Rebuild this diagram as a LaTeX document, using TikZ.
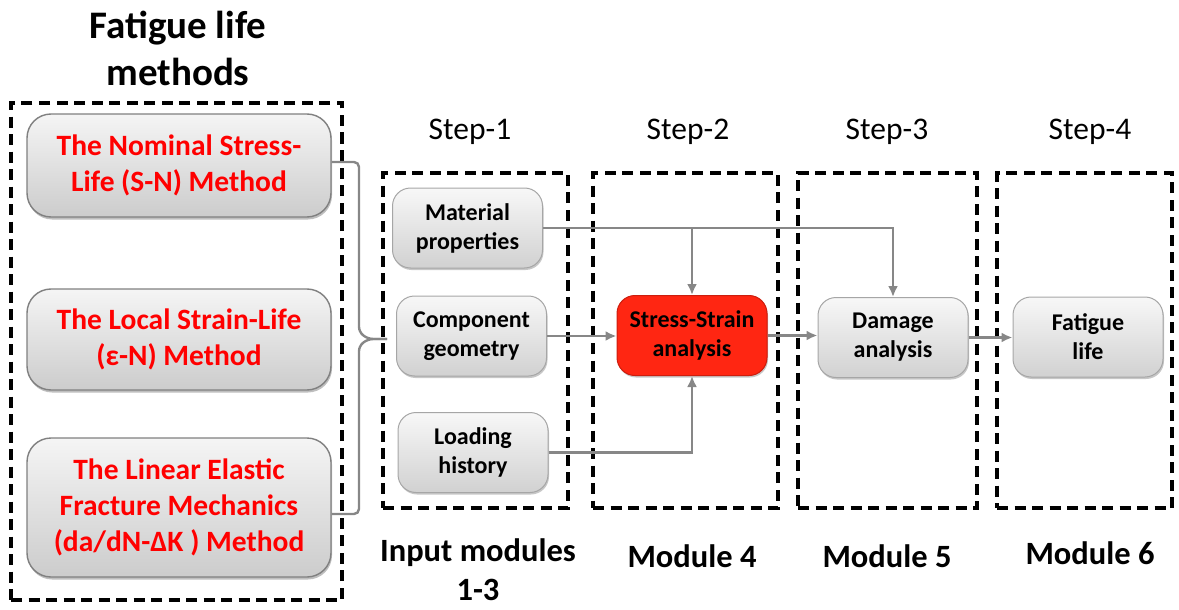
\documentclass[tikz,border=0pt]{standalone}
\usepackage{fontspec}
\setmainfont{Carlito}
\usetikzlibrary{arrows.meta,shadows}
\definecolor{linkgray}{RGB}{135,135,135}
\definecolor{edgegray}{RGB}{128,128,128}
\definecolor{hotred}{RGB}{255,38,18}
\tikzset{
  frame/.style={draw=black, line width=3.2pt, dash pattern=on 11pt off 6.5pt, inner sep=0pt},
  methodbox/.style={draw=edgegray, line width=1.4pt, rounded corners=24pt,
    top color=white!96!black, bottom color=black!20,
    drop shadow={shadow xshift=1pt, shadow yshift=-2.5pt, opacity=0.25, fill=black},
    minimum width=304pt, align=center, inner sep=0pt,
    text=red, font=\fontsize{29.5}{36}\selectfont\bfseries},
  stepbox/.style={draw=black!35, line width=1pt, rounded corners=18pt,
    top color=white!97!black, bottom color=black!18,
    drop shadow={shadow xshift=1pt, shadow yshift=-2pt, opacity=0.22, fill=black},
    minimum width=150pt, minimum height=80pt, align=center, inner sep=0pt,
    font=\fontsize{24}{29}\selectfont\bfseries},
  link/.style={draw=linkgray, line width=2.4pt, -{Latex[length=11pt,width=10pt]}},
  steplabel/.style={font=\fontsize{31.5}{36}\selectfont, inner sep=0pt},
  modlabel/.style={font=\fontsize{32.5}{39}\selectfont\bfseries, align=center, inner sep=0pt},
}
\begin{document}
\begin{tikzpicture}[x=1pt,y=-1pt]
\useasboundingbox (0,0) rectangle (1179,610);

% heading and left frame
\node[font=\fontsize{39}{47}\selectfont\bfseries, align=center, inner sep=0pt] (title) at (178,48) {Fatigue life\\methods};
\node[frame, minimum width=331pt, minimum height=497pt] (left) at (176.5,351.5) {};

% fatigue life methods
\node[methodbox, minimum height=103pt] (m1) at (179,165.5) {The Nominal Stress-\\Life (S-N) Method};
\node[methodbox, minimum height=101pt] (m2) at (179,339.5) {The Local Strain-Life\\(ε-N) Method};
\node[methodbox, minimum height=139pt] (m3) at (179,507.5) {The Linear Elastic\\Fracture Mechanics\\(da/dN-ΔK ) Method};

% step frames
\node[frame, minimum width=185pt, minimum height=335pt] (s1) at (475.5,340.5) {};
\node[frame, minimum width=185pt, minimum height=335pt] (s2) at (685.5,340.5) {};
\node[frame, minimum width=179pt, minimum height=335pt] (s3) at (887.5,340.5) {};
\node[frame, minimum width=175pt, minimum height=335pt] (s4) at (1084.5,340.5) {};

% step titles
\node[steplabel] (t1) at (470,132) {Step-1};
\node[steplabel] (t2) at (688,132) {Step-2};
\node[steplabel] (t3) at (887,132) {Step-3};
\node[steplabel] (t4) at (1090,132) {Step-4};

% module titles
\node[modlabel] (l1) at (478,570) {Input modules\\1-3};
\node[modlabel] (l2) at (692,556) {Module 4};
\node[modlabel] (l3) at (887,556) {Module 5};
\node[modlabel] (l4) at (1090,553) {Module 6};

% module boxes
\node[stepbox] (mat) at (467.5,228) {Material\\properties};
\node[stepbox] (geo) at (471.5,336) {Component\\geometry};
\node[stepbox] (load) at (473,452.5) {Loading\\history};
\node[stepbox, fill=hotred, draw=hotred!80!black, top color=hotred, bottom color=hotred] (ss) at (692,335.5) {Stress-Strain\\analysis};
\node[stepbox] (dmg) at (893,337.5) {Damage\\analysis};
\node[stepbox] (fat) at (1088,337) {Fatigue\\life};

% brace gathering the methods
\coordinate (tip) at (387,339);
\draw[draw=linkgray, line width=2.4pt, rounded corners=5pt]
  (m1.east |- 0,162) -- (359,162) -- (359,332) -- (368,339) -- (tip);
\draw[draw=linkgray, line width=2.4pt, rounded corners=5pt]
  (m3.east |- 0,514) -- (359,514) -- (359,346) -- (368,339) -- (tip);

% data flow
\coordinate (split) at (mat.east -| ss.north);
\draw[link] (mat.east) -| (dmg.north);
\draw[link] (split) -- (ss.north);
\draw[link] (geo.east) -- (geo.east -| ss.west);
\draw[link] (load.east) -| (ss.south);
\draw[link] (ss.east) -- (ss.east -| dmg.west);
\draw[link] (dmg.east) -- (dmg.east -| fat.west);
\end{tikzpicture}
\end{document}
